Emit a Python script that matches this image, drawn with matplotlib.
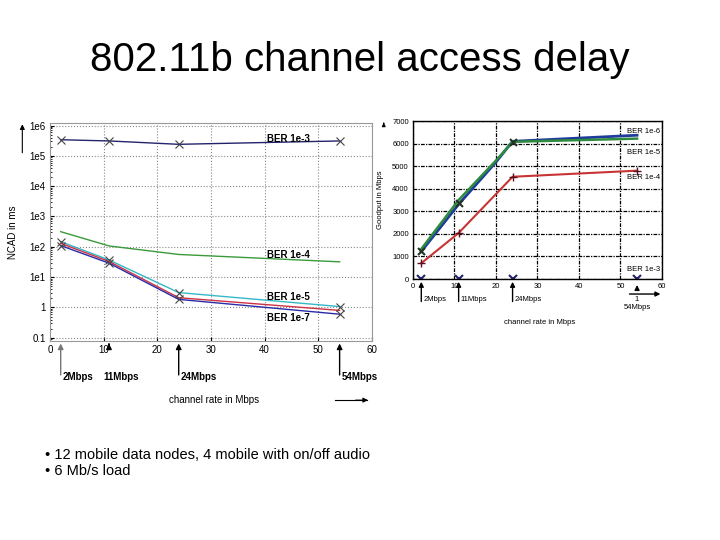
import matplotlib.pyplot as plt
import numpy as np

plt.rcParams['font.family'] = ['Liberation Sans', 'DejaVu Sans']

# --- dados: NCAD (gráfico da esquerda) ---
rates = [2, 11, 24, 54]
ncad_ber3 = [3.4e5, 3.1e5, 2.4e5, 3.1e5]
ncad_ber4 = [316, 107, 56, 32]
ncad_ber5 = [148, 37, 3.1, 1.07]
ncad_ber6 = [130, 33, 2.1, 0.8]
ncad_ber7 = [110, 29, 1.85, 0.6]

# --- dados: goodput (gráfico da direita) ---
rates_gp = [2, 11, 20, 24, 54]
gp_ber6 = [1220, 3310, 5180, 6100, 6370]
gp_ber5 = [1330, 3500, 5250, 6080, 6220]
rates_gp4 = [2, 11, 24, 54]
gp_ber4 = [700, 2040, 4530, 4800]
gp_ber3 = [0, 0, 0, 0]

rate_labels = ['2Mbps', '11Mbps', '24Mbps', '54Mbps']

fig = plt.figure(figsize=(7.2, 5.4), dpi=100)
fig.text(0.5, 0.889, '802.11b channel access delay', ha='center', va='center', fontsize=29)

# ---------------- gráfico da esquerda ----------------
ax = fig.add_axes([0.0694, 0.369, 0.447, 0.403])
ax.plot(rates, ncad_ber3, color='#23236e', lw=1, marker='x', ms=6, mec='#444444', mew=0.8)
ax.plot(rates, ncad_ber4, color='#3a9a3a', lw=1)
ax.plot(rates, ncad_ber5, color='#33b8c8', lw=1, marker='x', ms=6, mec='#444444', mew=0.8)
ax.plot(rates, ncad_ber6, color='#cc3344', lw=1)
ax.plot(rates, ncad_ber7, color='#2a2aa8', lw=1, marker='x', ms=6, mec='#444444', mew=0.8)
ax.set_yscale('log')
ax.set_xlim(0, 60)
ax.set_ylim(0.08, 1.2e6)
ax.set_xticks(range(0, 61, 10))
ax.set_yticks([0.1, 1, 10, 100, 1e3, 1e4, 1e5, 1e6])
ax.set_yticklabels(['0.1', '1', '1e1', '1e2', '1e3', '1e4', '1e5', '1e6'])
ax.tick_params(labelsize=7, direction='in', length=3, pad=3)
ax.tick_params(which='minor', direction='in', length=1.5)
ax.grid(True, which='major', color='#888888', ls=':', lw=0.8)
for s in ax.spines.values():
    s.set_color('#999999')

ax.text(40.5, 3.6e5, 'BER 1e-3', fontsize=7, fontweight='bold', va='center')
ax.text(40.5, 55, 'BER 1e-4', fontsize=7, fontweight='bold', va='center')
ax.text(40.5, 2.3, 'BER 1e-5', fontsize=7, fontweight='bold', va='center')
ax.text(40.5, 0.45, 'BER 1e-7', fontsize=7, fontweight='bold', va='center')
ax.set_ylabel('NCAD in ms', fontsize=7, labelpad=8)

for r, lab in zip(rates, rate_labels):
    y0 = -0.03 if r == 11 else -0.17
    col = '#777777' if r == 2 else 'black'
    ax.annotate('', xy=(r, 0.0), xytext=(r, y0), xycoords=('data', 'axes fraction'),
                arrowprops=dict(arrowstyle='-|>', color=col, lw=1.0, mutation_scale=8))
    ly = -0.165
    lx = r + 0.3 if r != 11 else r - 1
    ax.text(lx, ly, lab, transform=ax.get_xaxis_transform(), fontsize=7,
            fontweight='bold', va='center', ha='left')

fig.text(0.297, 0.26, 'channel rate in Mbps', fontsize=7, ha='center', va='center')
fig.add_artist(plt.Line2D([0.465, 0.51], [0.259, 0.259], color='black', lw=0.8))
ax.annotate('', xy=(0.515, 0.259), xytext=(0.49, 0.259), xycoords='figure fraction',
            arrowprops=dict(arrowstyle='-|>', color='black', lw=0.8, mutation_scale=7))
ax.annotate('', xy=(0.031, 0.775), xytext=(0.031, 0.712), xycoords='figure fraction',
            arrowprops=dict(arrowstyle='-|>', color='black', lw=0.8, mutation_scale=7))

# ---------------- gráfico da direita ----------------
ax2 = fig.add_axes([0.5736, 0.4833, 0.3458, 0.2926])
ax2.plot(rates_gp, gp_ber6, color='#1f3c9c', lw=2)
ax2.plot(rates_gp, gp_ber5, color='#2e8b3e', lw=1.8)
ax2.plot(rates_gp4, gp_ber4, color='#c83434', lw=1.5, marker='+', ms=6, mec='#5a1020')
ax2.plot(rates_gp4, gp_ber3, color='#23236e', lw=1.5, marker='x', ms=6, mew=1.5, ls='none')
ax2.scatter([2, 11, 24], [1250, 3350, 6060], marker='x', s=25, color='#223322', lw=1.5, zorder=3)
ax2.set_xlim(0, 60)
ax2.set_ylim(0, 7000)
ax2.set_xticks(range(0, 61, 10))
ax2.set_yticks(range(0, 7001, 1000))
ax2.tick_params(labelsize=5.5, length=0, pad=3)
ax2.grid(True, color='black', ls=(0, (3, 1, 1, 1)), lw=0.9)
for s in ax2.spines.values():
    s.set_color('black')
    s.set_linewidth(1.0)
ax2.set_ylabel('Goodput in Mbps', fontsize=5.5, labelpad=6)

ax2.text(51.5, 6520, 'BER 1e-6', fontsize=5.5, va='center')
ax2.text(51.5, 5620, 'BER 1e-5', fontsize=5.5, va='center')
ax2.text(51.5, 4480, 'BER 1e-4', fontsize=5.5, va='center')
ax2.text(51.5, 420, 'BER 1e-3', fontsize=5.5, va='center')

for r, lab in zip(rates[:3], rate_labels[:3]):
    ax2.annotate('', xy=(r, 0.0), xytext=(r, -0.16), xycoords=('data', 'axes fraction'),
                 arrowprops=dict(arrowstyle='-|>', color='black', lw=1.0, mutation_scale=7))
    ax2.text(r + 0.5, -0.13, lab, transform=ax2.get_xaxis_transform(), fontsize=5.5,
             va='center', ha='left')
ax2.annotate('', xy=(54, -0.02), xytext=(54, -0.09), xycoords=('data', 'axes fraction'),
             arrowprops=dict(arrowstyle='-|>', color='black', lw=1.0, mutation_scale=7))
ax2.annotate('', xy=(60.3, -0.095), xytext=(51.5, -0.095), xycoords=('data', 'axes fraction'),
             arrowprops=dict(arrowstyle='-|>', color='black', lw=1.0, mutation_scale=7))
ax2.text(54, -0.13, '1', transform=ax2.get_xaxis_transform(), fontsize=5.5, ha='center', va='center')
ax2.text(54, -0.18, '54Mbps', transform=ax2.get_xaxis_transform(), fontsize=5.5, ha='center', va='center')
fig.text(0.75, 0.402, 'channel rate in Mbps', fontsize=5.5, ha='center', va='center')
ax2.annotate('', xy=(0.533, 0.778), xytext=(0.533, 0.766), xycoords='figure fraction',
             arrowprops=dict(arrowstyle='-|>', color='black', lw=0.8, mutation_scale=5))

# ---------------- texto ----------------
fig.text(0.062, 0.157, '• 12 mobile data nodes, 4 mobile with on/off audio', fontsize=10.5, va='center')
fig.text(0.062, 0.128, '• 6 Mb/s load', fontsize=10.5, va='center')

fig.savefig('out.png', dpi=100)
